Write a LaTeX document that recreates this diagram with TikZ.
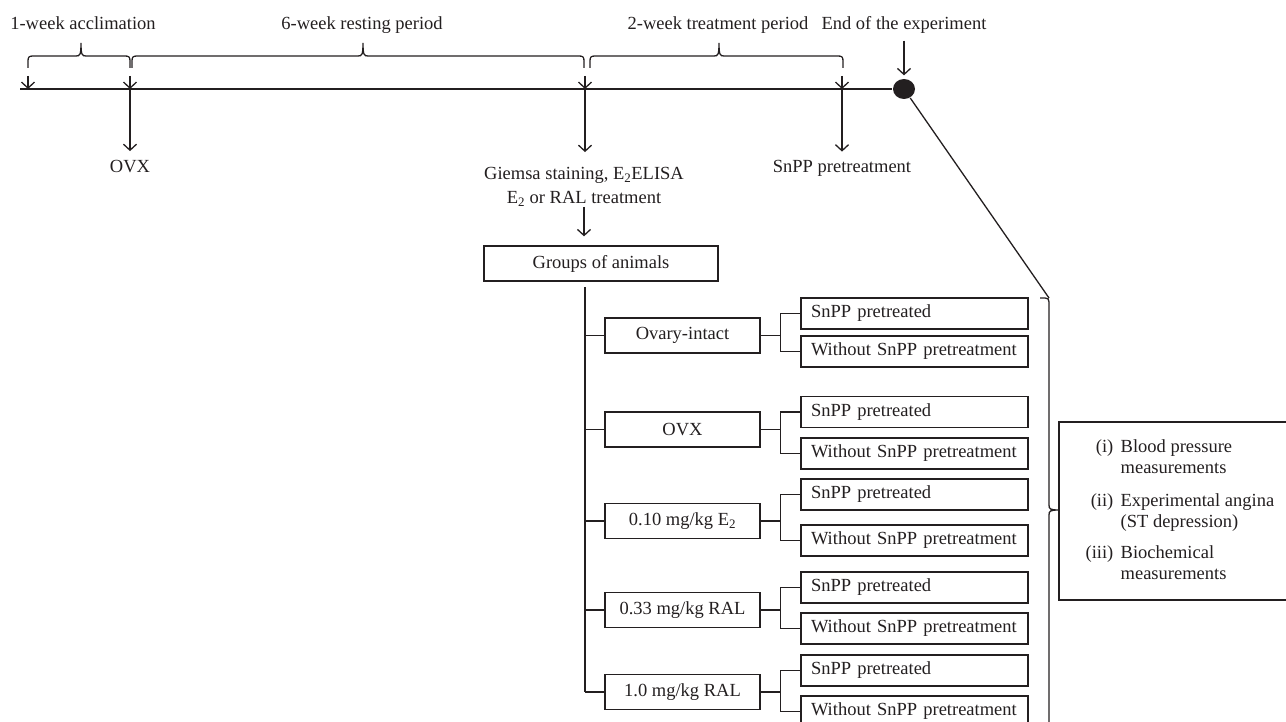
\documentclass[tikz,border=0pt]{standalone}
\usepackage{fontspec}
\setmainfont{Liberation Serif}
\usetikzlibrary{arrows.meta,shapes.geometric}
\definecolor{ink}{RGB}{35,31,32}
\newcommand\figfont{\fontsize{18.5}{21}\selectfont}
\newcommand\tlbrace[3]{\draw (#1,68) -- (#1,61) .. controls (#1,57) and (#1+1,56) .. (#1+5,56) -- (#3-5,56) .. controls (#3-1,56) and (#3,55) .. (#3,43) .. controls (#3,55) and (#3+1,56) .. (#3+5,56) -- (#2-5,56) .. controls (#2-1,56) and (#2,57) .. (#2,61) -- (#2,68);}
\tikzset{
  lbl/.style={font=\figfont, inner sep=0pt},
  grpbox/.style={draw, minimum width=155pt, minimum height=35pt, inner sep=0pt, font=\figfont},
  subbox/.style={draw, minimum height=31pt, text width=207pt, inner xsep=10pt, inner ysep=0pt, align=left, font=\figfont},
  arr/.style={-{Straight Barb[length=6pt,width=13pt]}},
}
\begin{document}
\begin{tikzpicture}[x=1pt,y=-1pt,line width=1.3pt,color=ink]
\path[use as bounding box, clip] (0,0) rectangle (1286,722);

% top labels
\node[lbl,anchor=base] (l1) at (83,30) {1-week acclimation};
\node[lbl,anchor=base] (l2) at (362,30) {6-week resting period};
\node[lbl,anchor=base] (l3) at (718,30) {2-week treatment period};
\node[lbl,anchor=base] (l4) at (904,30) {End of the experiment};

% timeline
\node[ellipse, fill=ink, minimum width=22pt, minimum height=20pt, inner sep=0pt] (dot) at (904,89) {};
\coordinate (t0) at (20,89);
\coordinate (t1) at (28,89);
\coordinate (t2) at (130,89);
\coordinate (t3) at (585,89);
\coordinate (t4) at (842,89);
\draw (t0) -- (dot.west);

% braces
\tlbrace{28}{130}{81}
\tlbrace{132}{584}{363}
\tlbrace{590}{843}{719}

% short arrows from braces
\foreach \t in {t1,t2,t3,t4} \draw[arr] ([yshift=13pt]\t) -- (\t);
\draw[arr, shorten <=6pt, shorten >=3pt] (l4.south -| dot.north) -- (dot.north);

% labels below timeline
\node[lbl,anchor=base] (ovx) at (130,173) {OVX};
\node[lbl,anchor=base] (gi1) at (584,180) {Giemsa staining, E\textsubscript{2}ELISA};
\node[lbl,anchor=base] (gi2) at (584,204) {E\textsubscript{2} or RAL treatment};
\node[lbl,anchor=base] (snpp) at (842,173) {SnPP pretreatment};
\draw[arr] (t2) -- ([yshift=9pt]ovx.north -| t2);
\draw[arr] (t3) -- ([yshift=15pt]gi1.north -| t3);
\draw[arr] (t4) -- ([yshift=8.5pt]snpp.north -| t4);

% groups
\node[draw, minimum width=234pt, minimum height=35pt, inner sep=0pt, font=\figfont] (grp) at (601,263.5) {Groups of animals};
\coordinate (a1) at (584,207);
\draw[arr, shorten >=9pt] (a1) -- (a1 |- grp.north);

\node[grpbox] (g1) at (682.5,335.5) {Ovary-intact};
\node[grpbox] (g2) at (682.5,429.5) {OVX};
\node[grpbox] (g3) at (682.5,521) {0.10 mg/kg E\textsubscript{2}};
\node[grpbox] (g4) at (682.5,610) {0.33 mg/kg RAL};
\node[grpbox] (g5) at (682.5,692) {1.0 mg/kg RAL};

\node[subbox] (s1a) at (914.5,313.5) {SnPP pretreated};
\node[subbox] (s1b) at (914.5,351.5) {Without SnPP pretreatment};
\node[subbox] (s2a) at (914.5,412) {SnPP pretreated};
\node[subbox] (s2b) at (914.5,453.5) {Without SnPP pretreatment};
\node[subbox] (s3a) at (914.5,494.5) {SnPP pretreated};
\node[subbox] (s3b) at (914.5,540.5) {Without SnPP pretreatment};
\node[subbox] (s4a) at (914.5,587.5) {SnPP pretreated};
\node[subbox] (s4b) at (914.5,628.5) {Without SnPP pretreatment};
\node[subbox] (s5a) at (914.5,670.5) {SnPP pretreated};
\node[subbox] (s5b) at (914.5,711.5) {Without SnPP pretreatment};

% trunk and branches
\coordinate (trtop) at (585,287);
\draw (trtop) -- (trtop |- g5.west);
\foreach \g in {g1,g2,g3,g4,g5} \draw (trtop |- \g.west) -- (\g.west);

% forks
\foreach \g/\a/\b in {g1/s1a/s1b, g2/s2a/s2b, g3/s3a/s3b, g4/s4a/s4b, g5/s5a/s5b} {
  \draw (\g.east) -- ++(20,0) coordinate (f\g);
  \draw (\a.west) -| (f\g) |- (\b.west);
}

% right brace and result box
\node[draw, minimum width=241pt, minimum height=178pt, inner sep=0pt] (rb) at (1179.5,511) {};
\coordinate (bt) at (1049,298);
\draw (1040,298) -- (1045,298) .. controls (1048,298) and (1049,299) .. (1049,302) -- (1049,505) .. controls (1049,509) and (1050,510) .. (1059,510) .. controls (1050,510) and (1049,511) .. (1049,515) -- (1049,730);
\draw (dot) -- (bt);

\node[lbl,anchor=base east] (n1) at (1114,452) {(i)};
\node[lbl,anchor=base west] (i1a) at (1120,452) {Blood pressure};
\node[lbl,anchor=base west] (i1b) at (1120,473) {measurements};
\node[lbl,anchor=base east] (n2) at (1114,506) {(ii)};
\node[lbl,anchor=base west] (i2a) at (1120,506) {Experimental angina};
\node[lbl,anchor=base west] (i2b) at (1120,527) {(ST depression)};
\node[lbl,anchor=base east] (n3) at (1114,558) {(iii)};
\node[lbl,anchor=base west] (i3a) at (1120,558) {Biochemical};
\node[lbl,anchor=base west] (i3b) at (1120,579) {measurements};
\end{tikzpicture}
\end{document}
